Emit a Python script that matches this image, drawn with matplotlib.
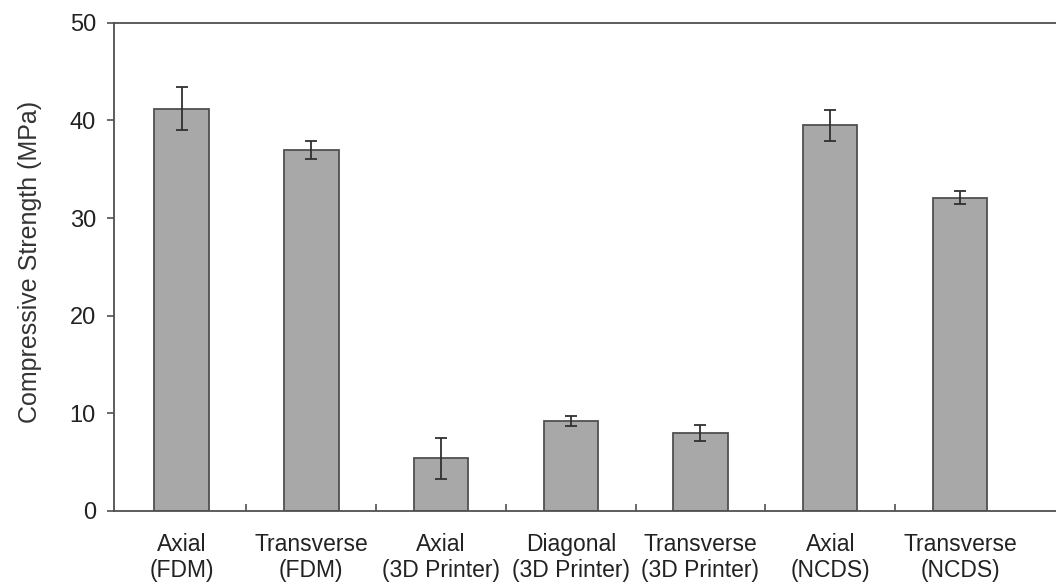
import matplotlib.pyplot as plt
import numpy as np

plt.rcParams['font.family'] = ['Liberation Sans', 'DejaVu Sans']

categories = ['Axial\n(FDM)', 'Transverse\n(FDM)', 'Axial\n(3D Printer)', 'Diagonal\n(3D Printer)',
              'Transverse\n(3D Printer)', 'Axial\n(NCDS)', 'Transverse\n(NCDS)']
strength = [41.2, 37.0, 5.4, 9.2, 8.0, 39.5, 32.1]
errors = [2.2, 0.9, 2.1, 0.5, 0.8, 1.6, 0.7]

fig = plt.figure(figsize=(10.56, 5.86), dpi=100)
ax = fig.add_axes([0.108, 0.128, 0.892, 0.833])

x = np.arange(len(categories))
ax.bar(x, strength, width=0.42, color='#a8a8a8', edgecolor='#505050', linewidth=1.3,
       yerr=errors, error_kw=dict(ecolor='#303030', elinewidth=1.3, capsize=4, capthick=1.3))

ax.set_xlim(-0.52, 6.74)
ax.set_ylim(0, 50)
ax.set_yticks([0, 10, 20, 30, 40, 50])
ax.set_xticks(x)
ax.set_xticklabels(categories, fontsize=16.5, linespacing=1.15, color='#222222')
ax.set_xticks(x[:-1] + 0.5, minor=True)
ax.tick_params(axis='x', which='major', length=0, pad=16)
ax.tick_params(axis='x', which='minor', direction='in', length=5, width=1.2, color='#505050')
ax.tick_params(axis='y', direction='out', length=5, width=1.2, color='#505050', labelsize=17, pad=8,
               labelcolor='#222222')
ax.set_ylabel('Compressive Strength (MPa)', fontsize=18, color='#333333')
ax.yaxis.set_label_coords(-0.076, 0.51)

for s in ['left', 'bottom', 'top']:
    ax.spines[s].set_color('#505050')
    ax.spines[s].set_linewidth(1.3)
ax.spines['right'].set_visible(False)

fig.savefig('out.png', dpi=100)
